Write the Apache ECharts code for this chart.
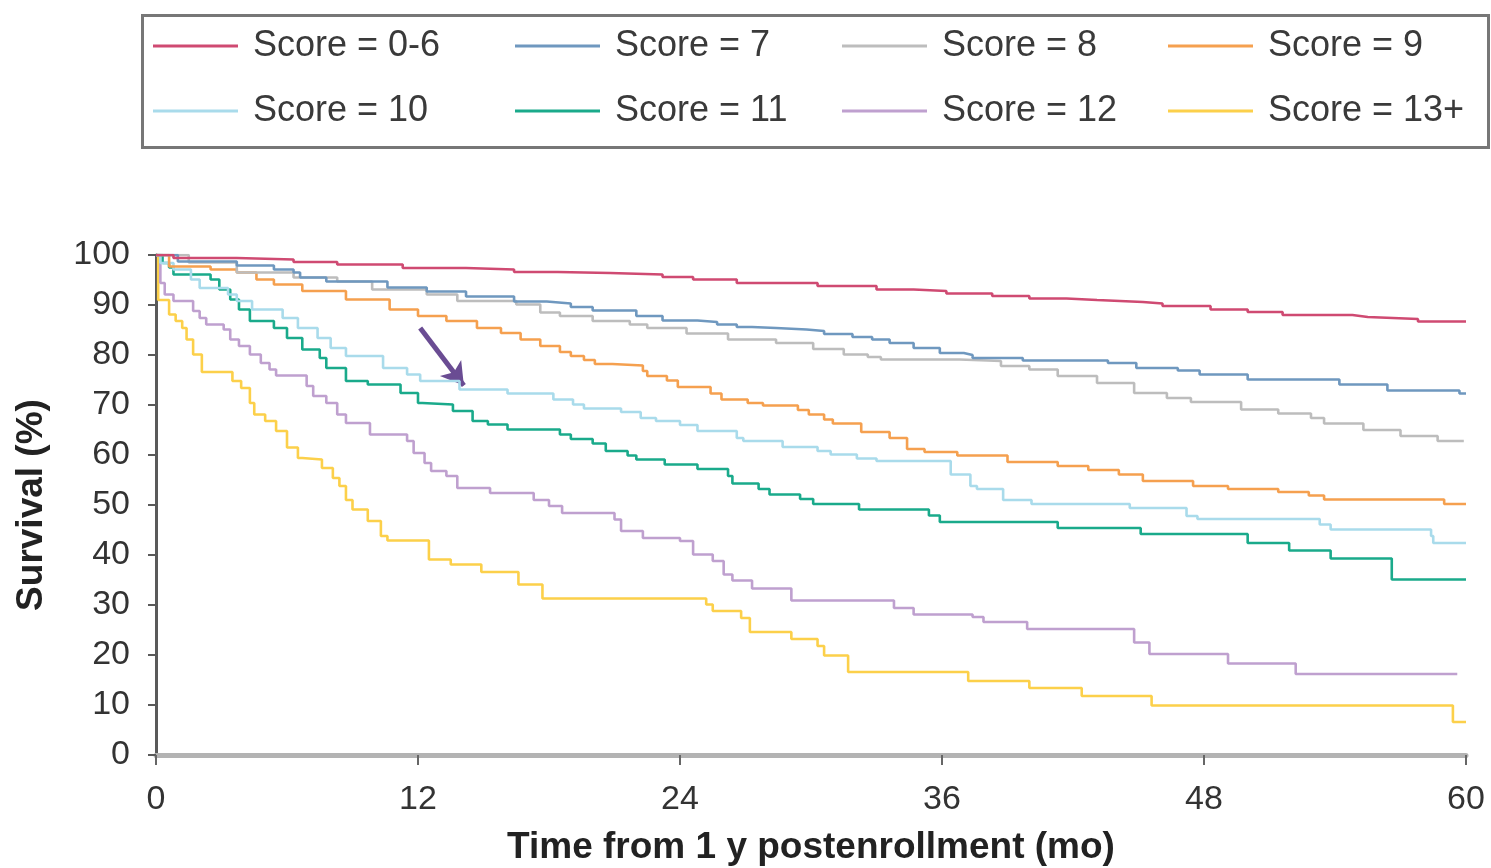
<!DOCTYPE html>
<html>
<head>
<meta charset="utf-8">
<script src="https://cdn.jsdelivr.net/npm/echarts@6/dist/echarts.min.js"></script>
<style>
html,body{margin:0;padding:0;background:#fff;}
#chart{width:1491px;height:868px;}
</style>
</head>
<body>
<div id="chart"></div>
<script>
// Series names
const seriesNames = ['Score = 0-6','Score = 7','Score = 8','Score = 9','Score = 10','Score = 11','Score = 12','Score = 13+'];
// Axis ticks
const xTicks = [0, 12, 24, 36, 48, 60];
const yTicks = [0, 10, 20, 30, 40, 50, 60, 70, 80, 90, 100];

// Kaplan-Meier steps: [month, survival %] (value holds from month until next step)
const score0to6 = [[0,100],[0.8,99.4],[3.7,99.1],[6.3,98.6],[8.3,98.1],[11.3,97.4],[14.2,97.1],[16.4,96.6],[18.4,96.4],[20.8,96.1],[23.2,95.6],[24.6,95.1],[26.6,94.4],[30.3,93.8],[33,93.1],[34.7,92.8],[36.2,92.3],[38.3,91.8],[40,91.3],[41.7,91.0],[43.1,90.6],[45.2,90.3],[46.1,89.8],[48.3,89.1],[50,88.6],[51.6,88.0],[54.8,87.6],[55.5,87.2],[57.8,86.7],[60,86.7]];
const score7 = [[0,100],[1,98.7],[3.7,97.9],[5.4,97.1],[6.3,96.5],[6.6,95.5],[7.8,94.7],[10.6,93.5],[12.4,92.7],[14.2,91.7],[16.4,90.7],[17.9,90.3],[19,89.6],[20,88.9],[22,87.8],[23.2,86.9],[24.8,86.6],[25.7,86.1],[26.6,85.6],[27.3,85.4],[28.4,85.1],[29.8,84.8],[30.6,84.2],[31.9,83.6],[32.8,83.1],[33.6,82.4],[34.7,81.4],[35.9,80.4],[37,80.0],[37.4,79.4],[39.7,78.9],[43.6,78.4],[44.9,77.4],[46.8,76.9],[47.8,76.1],[50,75.1],[54.2,74.1],[56.4,72.9],[59.7,72.3],[60,72.3]];
const score8 = [[0,100],[1.5,98.5],[3.7,96.5],[6.3,95.5],[8.3,94.7],[9.9,93.1],[12.4,92.1],[13.8,90.8],[16.5,90.1],[17.6,88.5],[18.5,87.8],[20,86.8],[21.7,86.1],[22.5,85.4],[24.3,84.3],[26.2,83.1],[28.4,82.4],[30.1,81.2],[31.5,80.1],[32.6,79.6],[33.2,79.1],[36.8,78.8],[38.7,77.8],[40,77.1],[41.3,75.8],[43.1,74.4],[44.8,72.4],[46.3,71.4],[47.4,70.6],[49.7,69.1],[51.4,68.3],[52.9,67.4],[53.5,66.3],[55.3,65.0],[57,63.8],[58.7,62.8],[59.9,62.8]];
const score9 = [[0,100],[0.6,97.7],[2.5,97.1],[3.7,96.5],[4.6,95.1],[5.4,94.1],[6.7,92.8],[8.7,91.1],[10.7,89.1],[12,87.8],[13.3,86.8],[14.7,85.4],[15.8,84.4],[16.7,83.1],[17.6,81.8],[18.5,80.6],[19,79.8],[19.6,79.0],[20.1,78.2],[20.9,77.9],[22.3,76.8],[22.5,75.8],[23.4,74.9],[23.9,73.6],[25.4,72.3],[25.9,71.1],[27.1,70.4],[27.8,69.9],[29.4,69.0],[29.9,68.1],[30.6,67.1],[31,66.3],[32.3,64.6],[33.6,63.4],[34.4,61.2],[35.2,60.6],[36.7,59.9],[39,58.6],[41.3,57.8],[42.7,57.0],[44.1,56.1],[45.2,54.8],[47.5,53.8],[49.1,53.2],[51.4,52.6],[52.8,51.9],[53.5,51.1],[59,50.2],[60,50.2]];
const score10 = [[0,100],[0.2,98.4],[0.8,97.1],[1.6,95.1],[2,93.4],[3.3,92.1],[3.7,90.8],[4.4,89.1],[5.8,87.4],[6.5,85.4],[7.4,83.4],[8,81.4],[8.7,79.8],[10.4,77.4],[11.5,76.1],[12.1,74.8],[13.9,73.1],[16.1,72.3],[18.2,71.1],[19.1,70.1],[19.6,69.3],[21.3,68.6],[22.2,67.4],[22.9,66.8],[24,66.0],[24.8,64.8],[26.6,63.4],[26.9,62.8],[28.7,61.6],[30.3,60.8],[30.9,60.1],[32.1,59.3],[33,58.8],[36.4,56.1],[37.3,53.8],[37.6,53.2],[38.8,51.0],[40.1,50.2],[44.6,49.4],[47.2,47.8],[47.7,47.2],[53.3,46.1],[53.8,45.1],[58.4,43.8],[58.5,42.4],[60,42.4]];
const score11 = [[0,100],[0.3,98.4],[0.6,97.5],[0.8,96.1],[2.5,95.1],[2.9,93.1],[3.4,91.1],[3.8,89.1],[4.3,86.8],[5.4,85.4],[6,83.4],[6.7,81.1],[7.5,79.4],[7.8,77.4],[8.7,74.8],[9.7,74.1],[11.2,72.4],[12,70.4],[12.2,70.1],[13.6,68.8],[14.5,66.8],[15.2,66.1],[16.1,65.1],[18.5,64.1],[19,63.2],[20,62.3],[20.6,60.8],[21.6,59.9],[22,59.1],[23.3,58.1],[24.8,57.2],[26.2,55.8],[26.4,54.3],[27.6,53.2],[28.1,52.1],[29.5,51.2],[30.1,50.2],[32.2,49.1],[35.4,47.9],[35.9,46.6],[41.3,45.4],[45.1,44.2],[50,42.4],[51.9,40.9],[53.8,39.3],[56.6,35.1],[60,35.1]];
const score12 = [[0,100],[0.2,94.4],[0.4,92.1],[0.8,90.8],[1.7,88.8],[2,87.4],[2.3,86.1],[3.1,85.1],[3.4,83.1],[3.8,81.8],[4.3,80.1],[4.8,78.4],[5.2,77.1],[5.5,75.9],[6.9,73.8],[7.2,71.8],[7.8,70.4],[8.3,68.1],[8.7,66.4],[9.8,64.1],[11.5,62.8],[11.8,60.4],[12.3,58.4],[12.6,56.8],[13.3,55.8],[13.8,53.4],[15.3,52.4],[17.3,51.0],[18,49.8],[18.6,48.4],[21,47.1],[21.3,44.8],[22.3,43.4],[24,42.8],[24.6,40.1],[25.5,38.8],[26,36.1],[26.4,34.9],[27.3,33.3],[29.1,30.9],[33.8,29.4],[34.7,28.1],[37.4,27.6],[37.9,26.6],[39.9,25.2],[44.8,22.5],[45.5,20.2],[49.1,18.3],[52.2,16.2],[59.6,16.2]];
const score13plus = [[0,100],[0.1,91.0],[0.6,88.1],[0.9,86.8],[1.2,85.4],[1.4,83.1],[1.7,80.1],[2.1,76.6],[3.5,74.8],[3.9,73.4],[4.3,70.4],[4.5,68.1],[5,66.8],[5.5,64.8],[6,61.5],[6.5,59.4],[6.7,59.1],[7.6,57.4],[8.1,55.4],[8.4,53.8],[8.7,51.0],[9,49.1],[9.7,46.8],[10.3,43.8],[10.6,42.9],[12.5,39.1],[13.5,38.1],[14.9,36.6],[16.6,34.1],[17.7,31.3],[25.2,30.1],[25.5,28.8],[26.8,27.4],[27.2,24.6],[29.1,23.2],[30.3,21.8],[30.6,19.9],[31.7,16.6],[37.2,14.8],[40,13.4],[42.4,11.8],[45.6,9.9],[59.4,6.6],[60,6.6]];

// Arrow annotation (data coordinates: month, %)
const arrowFrom = [12.1, 85.4];
const arrowTo = [14.1, 73.9];

const seriesData = [score0to6, score7, score8, score9, score10, score11, score12, score13plus];
const colors = ['#cf4a72','#6f98bf','#bdbdbd','#f5a04f','#a9dbeb','#1aaa8b','#bfa0cf','#fcd04a'];

const chart = echarts.init(document.getElementById('chart'), null, {renderer:'canvas'});

const series = seriesNames.map((name, i) => {
  const s = {
    name: name,
    type: 'line',
    step: 'end',
    data: seriesData[i],
    showSymbol: false,
    symbol: 'none',
    lineStyle: {width: 2.6, color: colors[i]},
    itemStyle: {color: colors[i]},
    emphasis: {disabled: true},
    z: 2 + (7 - i)
  };
  if (name === 'Score = 10') {
    s.markLine = {
      silent: true,
      symbol: ['none', 'arrow'],
      symbolSize: [20, 22],
      label: {show: false},
      lineStyle: {color: '#6a4c93', width: 5, type: 'solid'},
      emphasis: {disabled: true},
      animation: false,
      data: [[{coord: arrowFrom}, {coord: arrowTo}]]
    };
  }
  return s;
});

const legendCommon = {
  orient: 'vertical',
  top: 26,
  itemWidth: 85,
  itemHeight: 3,
  itemGap: 25,
  icon: 'rect',
  padding: 0,
  selectedMode: false,
  textStyle: {fontSize: 36, lineHeight: 40, color: '#3a3a3a', fontFamily: 'Liberation Sans, Arial, sans-serif', padding: [0,0,0,10]}
};

const option = {
  animation: false,
  backgroundColor: '#fff',
  color: colors,
  grid: {left: 156, right: 25, top: 255, bottom: 113, containLabel: false, outerBoundsMode: 'none'},
  legend: [
    Object.assign({}, legendCommon, {left: 153, data: [seriesNames[0], seriesNames[4]]}),
    Object.assign({}, legendCommon, {left: 515, data: [seriesNames[1], seriesNames[5]]}),
    Object.assign({}, legendCommon, {left: 842, data: [seriesNames[2], seriesNames[6]]}),
    Object.assign({}, legendCommon, {left: 1168, data: [seriesNames[3], seriesNames[7]]})
  ],
  graphic: [{
    type: 'rect',
    left: 140, top: 13,
    shape: {width: 1346, height: 132},
    style: {fill: 'none', stroke: '#777', lineWidth: 3},
    silent: true,
    z: -1
  }],
  xAxis: {
    type: 'value',
    min: xTicks[0],
    max: xTicks[xTicks.length - 1],
    interval: 12,
    name: 'Time from 1 y postenrollment (mo)',
    nameLocation: 'middle',
    nameGap: 74,
    nameTextStyle: {fontSize: 37, fontWeight: 'bold', color: '#222', fontFamily: 'Liberation Sans, Arial, sans-serif'},
    axisLine: {show: true, lineStyle: {color: '#b3b3b3', width: 5}},
    axisTick: {show: true, length: 10, lineStyle: {color: '#666', width: 2}},
    axisLabel: {fontSize: 34, color: '#333', margin: 28, fontFamily: 'Liberation Sans, Arial, sans-serif'},
    splitLine: {show: false}
  },
  yAxis: {
    type: 'value',
    min: yTicks[0],
    max: yTicks[yTicks.length - 1],
    interval: 10,
    name: 'Survival (%)',
    nameLocation: 'middle',
    nameGap: 106,
    nameTextStyle: {fontSize: 37, fontWeight: 'bold', color: '#222', fontFamily: 'Liberation Sans, Arial, sans-serif'},
    axisLine: {show: true, lineStyle: {color: '#5a5a5a', width: 3}},
    axisTick: {show: true, length: 8, lineStyle: {color: '#5a5a5a', width: 2}},
    axisLabel: {fontSize: 34, color: '#333', margin: 26, fontFamily: 'Liberation Sans, Arial, sans-serif'},
    splitLine: {show: false}
  },
  series: series
};

chart.setOption(option);
</script>
</body>
</html>
